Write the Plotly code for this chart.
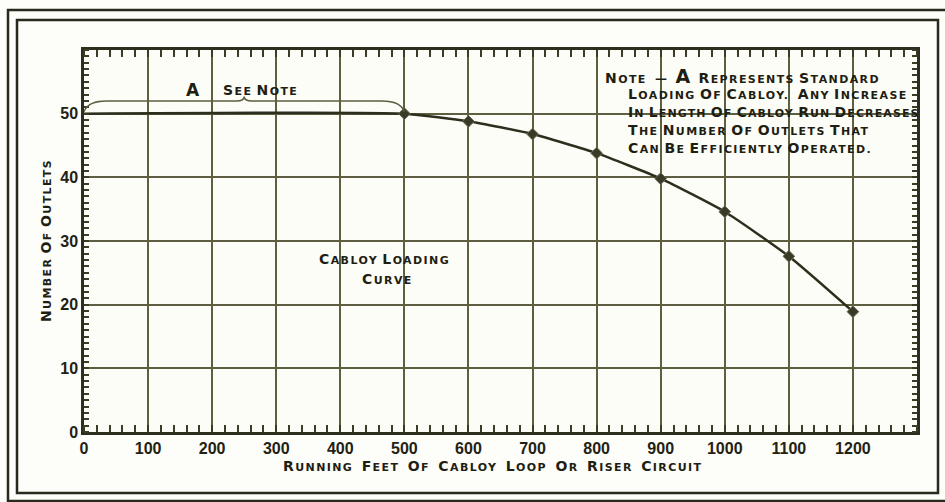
import plotly.graph_objects as go

# ---- data ----
feet = [0, 500, 600, 700, 800, 900, 1000, 1100, 1200]
outlets = [50, 50, 48.8, 46.8, 43.8, 39.8, 34.6, 27.6, 18.9]
marker_feet = [500, 600, 700, 800, 900, 1000, 1100, 1200]
marker_outlets = [50, 48.8, 46.8, 43.8, 39.8, 34.6, 27.6, 18.9]
x_ticks = [0, 100, 200, 300, 400, 500, 600, 700, 800, 900, 1000, 1100, 1200]
y_ticks = [0, 10, 20, 30, 40, 50]
a_range = [0, 500]

INK = "#3b3b26"
GRID = "#5e5e40"
FONT = "DejaVu Sans"

W, H = 945, 502
L, R, T, B = 84, 917, 50, 432


def sc(text, big=14, small=11, ls=1.4):
    """Small caps: first letter of each word big, rest smaller uppercase."""
    out = []
    for w in text.split(" "):
        if not w:
            out.append("")
            continue
        s = f"<span style='font-size:{big}px;letter-spacing:{ls}px'>{w[0].upper()}</span>"
        if len(w) > 1:
            s += f"<span style='font-size:{small}px;letter-spacing:{ls}px'>{w[1:].upper()}</span>"
        out.append(s)
    return " ".join(out)


def px(xp):
    return (xp - L) / (R - L)


def py(yp):
    return (B - yp) / (B - T)


fig = go.Figure()
fig.add_trace(go.Scatter(x=feet, y=outlets, mode="lines",
                         line=dict(color="#2e2e1e", width=2.5, shape="spline", smoothing=0.5),
                         hoverinfo="skip", showlegend=False))
fig.add_trace(go.Scatter(x=marker_feet, y=marker_outlets, mode="markers",
                         marker=dict(color="#3a3a28", size=9, symbol="diamond",
                                     line=dict(color="#6b6b50", width=1)),
                         showlegend=False))

axis_common = dict(showline=True, linecolor="#2e2e1e", linewidth=2.5, mirror="allticks",
                   showgrid=True, gridcolor=GRID, gridwidth=2, zeroline=False,
                   ticks="", tickfont=dict(family="Liberation Sans", size=16, color="#222214",
                                           weight="bold"))

fig.update_xaxes(range=[0, 1300], tickvals=x_ticks, ticktext=[str(v) for v in x_ticks],
                 minor=dict(dtick=20, ticks="inside", ticklen=7, tickcolor=INK, tickwidth=1.5,
                            showgrid=False),
                 **axis_common)
fig.update_yaxes(range=[0, 60], tickvals=y_ticks, ticktext=[str(v) for v in y_ticks],
                 minor=dict(dtick=1, ticks="inside", ticklen=5, tickcolor=INK, tickwidth=1.5,
                            showgrid=False),
                 **axis_common)

# brace over region A
x0, x1 = a_range
xm = (x0 + x1) / 2
brace = (f"M {x0},50.3 Q {x0+6},52 {x0+35},52 L {xm-12},52 Q {xm},52 {xm},52.7 "
         f"Q {xm},52 {xm+12},52 L {x1-35},52 Q {x1-6},52 {x1},50.3")
shapes = [dict(type="path", path=brace, xref="x", yref="y",
               line=dict(color=GRID, width=1.5))]
# double frame
shapes.append(dict(type="rect", xref="paper", yref="paper",
                   x0=px(8), x1=px(948), y0=py(501), y1=py(10),
                   line=dict(color="#2a2a1c", width=2.5), layer="below"))
shapes.append(dict(type="rect", xref="paper", yref="paper",
                   x0=px(17), x1=px(938), y0=py(493), y1=py(20),
                   line=dict(color="#2a2a1c", width=2.5), layer="below"))

tf = dict(family=FONT, color="#1e1e12", weight="bold")
ann = []


def add(xp, yp, text, xanchor="center", **kw):
    ann.append(dict(x=px(xp), y=py(yp), xref="paper", yref="paper", xanchor=xanchor,
                    yanchor="middle", text=text, showarrow=False, font=tf, **kw))


add(193, 90, "<span style='font-size:17px'>A</span>")
add(221, 90, sc("See Note"), xanchor="left")
note_lines = [
    sc("Note") + "  —  <span style='font-size:19px'>A</span>  " + sc("Represents Standard"),
    sc("Loading of Cabloy.  Any Increase"),
    sc("in Length of Cabloy Run Decreases", ls=1.1),
    sc("The Number of Outlets That"),
    sc("Can Be Efficiently Operated."),
]
for i, line in enumerate(note_lines):
    add(603 if i == 0 else 626, 76 + 18 * i, line, xanchor="left")
add(384, 259, sc("Cabloy Loading"))
add(387, 279, sc("Curve"))
add(46, 241, sc("Number Of Outlets"), textangle=-90)
add(492, 466, sc("Running  Feet  of  Cabloy  Loop  or  Riser  Circuit"))

fig.update_layout(width=W, height=H, margin=dict(l=L, r=W - R, t=T, b=H - B),
                  paper_bgcolor="#fdfdf9", plot_bgcolor="#fdfdf7",
                  shapes=shapes, annotations=ann, showlegend=False)

fig.write_html("out.html", config={"displayModeBar": False},
               post_script="document.body.style.margin='0px';"
               "document.body.style.overflow='hidden';")
